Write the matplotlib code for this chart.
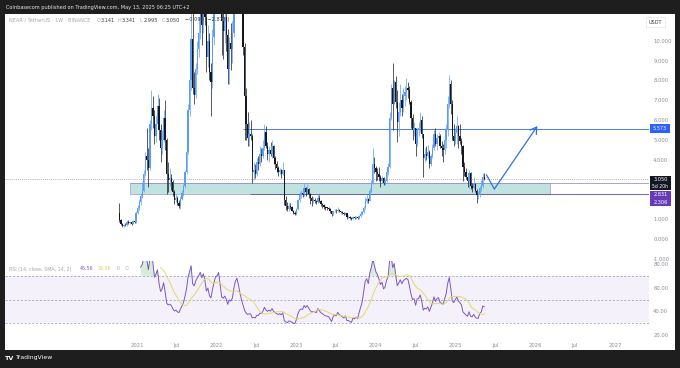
import numpy as np
import pandas as pd
import matplotlib
matplotlib.use("Agg")
import matplotlib.pyplot as plt
import matplotlib.dates as mdates
from matplotlib.patches import Rectangle

W, H = 680, 368

# NEAR / TetherUS weekly candles, first week starts 2020-10-12
first_open = 1.30
closes = [
    0.95, 0.75, 0.66,                      # 2020 Oct
    0.72, 0.70, 0.88, 0.80, 0.86,          # Nov
    0.78, 0.90, 0.85, 1.30,                # Dec
    1.60, 1.90, 2.20, 2.45,                # 2021 Jan
    3.30, 4.20, 4.00, 3.60,                # Feb
    5.80, 6.60, 6.20, 5.20, 5.80,          # Mar
    6.70, 5.50, 4.60, 5.00,                # Apr
    6.10, 5.00, 3.30, 3.00, 3.10,          # May
    2.90, 2.40, 2.00, 2.10,                # Jun
    1.85, 1.70, 2.05, 2.35,                # Jul
    2.70, 3.40, 4.40, 6.50, 8.00,          # Aug
    10.10, 7.60, 7.25, 8.60,               # Sep
    9.60, 10.40, 11.60, 10.80,             # Oct
    12.20, 11.20, 9.20, 10.00, 8.40,       # Nov
    7.90, 10.20, 12.60, 15.00,             # Dec
    15.50, 17.20, 14.50, 11.00, 10.50,     # 2022 Jan
    11.20, 10.30, 8.60, 9.90,              # Feb
    9.60, 10.40, 13.80, 17.00,             # Mar
    18.60, 16.80, 14.20, 11.80,            # Apr
    9.70, 7.20, 5.80, 5.10, 5.30,          # May
    5.20, 3.40, 3.50, 3.30,                # Jun
    3.90, 3.80, 4.30, 4.20,                # Jul
    4.60, 5.40, 4.70, 4.30, 4.50,          # Aug
    4.30, 4.70, 4.10, 3.80,                # Sep
    3.60, 3.40, 3.50, 3.30, 3.50,          # Oct
    2.00, 1.70, 1.55, 1.70,                # Nov
    1.65, 1.45, 1.30, 1.25,                # Dec
    1.55, 2.00, 2.25, 2.35, 2.30,          # 2023 Jan
    2.60, 2.40, 2.55, 2.30,                # Feb
    2.10, 1.95, 2.00, 1.95,                # Mar
    1.90, 2.10, 1.95, 1.80,                # Apr
    1.75, 1.65, 1.60, 1.58, 1.55,          # May
    1.40, 1.25, 1.40, 1.45,                # Jun
    1.40, 1.50, 1.40, 1.35, 1.30,          # Jul
    1.25, 1.30, 1.10, 1.10,                # Aug
    1.05, 1.02, 1.10, 1.07,                # Sep
    1.10, 1.05, 1.15, 1.25, 1.35,          # Oct
    1.60, 1.95, 2.05, 1.95,                # Nov
    2.45, 2.85, 3.80, 3.60,                # Dec
    3.40, 3.30, 3.15, 2.95, 3.10,          # 2024 Jan
    2.85, 2.95, 3.40, 3.65,                # Feb
    6.10, 7.60, 6.80, 7.90,                # Mar
    6.90, 5.90, 6.40, 7.00, 6.60,          # Apr
    7.20, 7.40, 7.60, 7.50,                # May
    6.90, 6.10, 5.50, 5.60,                # Jun
    4.80, 5.50, 5.60, 6.00, 5.30,          # Jul
    4.10, 4.30, 4.20, 4.40,                # Aug
    3.80, 4.20, 4.60, 5.30, 4.80,          # Sep
    5.10, 5.20, 4.70, 4.60,                # Oct
    4.50, 5.00, 5.50, 6.80,                # Nov
    7.80, 6.80, 5.20, 4.95, 5.35,          # Dec
    5.70, 5.20, 4.95, 4.70,                # 2025 Jan
    3.65, 3.40, 3.15, 2.95,                # Feb
    3.35, 2.70, 2.60, 2.80, 2.45,          # Mar
    2.25, 2.25, 2.60, 2.70,                # Apr
    3.14, 3.05,                            # May
]
highs = [
    1.85, 1.00, 0.80,
    0.78, 0.80, 0.95, 0.96, 0.92,
    0.90, 0.95, 0.98, 1.40,
    1.72, 2.05, 2.35, 2.90,
    3.50, 4.40, 5.60, 4.60,
    6.00, 7.50, 7.20, 6.50, 6.20,
    7.30, 7.10, 5.80, 5.50,
    6.50, 7.00, 5.10, 3.90, 3.60,
    3.30, 3.00, 2.50, 2.30,
    2.20, 2.00, 2.20, 2.50,
    2.80, 3.50, 4.60, 6.80, 8.50,
    13.20, 12.40, 8.40, 8.90,
    10.00, 11.20, 12.10, 12.30,
    13.00, 13.20, 11.60, 10.80, 10.40,
    8.90, 10.60, 13.30, 16.00,
    16.90, 20.40, 20.30, 14.80, 11.50,
    11.90, 11.60, 10.60, 10.20,
    10.90, 11.00, 14.00, 17.50,
    20.60, 19.40, 17.50, 14.80,
    12.50, 9.90, 7.60, 6.40, 5.90,
    6.00, 5.30, 3.90, 3.80,
    4.10, 4.20, 4.70, 4.60,
    5.00, 5.80, 5.70, 4.90, 4.70,
    4.90, 5.00, 4.75, 4.20,
    3.95, 3.70, 3.60, 3.55, 3.90,
    3.50, 2.20, 1.90, 1.85,
    1.85, 1.70, 1.50, 1.40,
    1.60, 2.05, 2.40, 2.50, 2.55,
    2.85, 2.65, 2.80, 2.60,
    2.35, 2.20, 2.15, 2.10,
    2.00, 2.30, 2.25, 2.00,
    1.85, 1.80, 1.70, 1.65, 1.65,
    1.60, 1.45, 1.45, 1.55,
    1.55, 1.65, 1.55, 1.45, 1.40,
    1.35, 1.35, 1.32, 1.20,
    1.15, 1.10, 1.15, 1.15,
    1.15, 1.15, 1.20, 1.40, 1.45,
    1.70, 2.15, 2.25, 2.10,
    2.60, 3.00, 4.60, 4.15,
    3.70, 3.60, 3.65, 3.25, 3.20,
    3.15, 3.05, 3.55, 3.85,
    6.40, 7.80, 8.90, 8.00,
    8.20, 7.50, 6.90, 7.80, 7.30,
    7.60, 7.70, 8.10, 7.90,
    7.70, 7.00, 6.30, 5.90,
    5.60, 5.60, 5.90, 6.40, 6.20,
    5.30, 4.60, 4.70, 4.75,
    4.50, 4.30, 4.80, 5.50, 5.60,
    5.30, 5.40, 5.30, 4.95,
    4.80, 5.60, 5.80, 7.20,
    8.25, 8.00, 7.00, 5.80, 5.60,
    6.20, 5.75, 5.80, 5.10,
    4.75, 3.90, 3.60, 3.35,
    3.50, 3.40, 2.85, 3.15, 2.85,
    2.55, 2.45, 2.70, 3.00,
    3.35, 3.341,
]
lows = [
    0.85, 0.70, 0.60,
    0.60, 0.65, 0.68, 0.76, 0.78,
    0.74, 0.76, 0.80, 0.84,
    1.25, 1.50, 1.75, 2.10,
    2.40, 3.20, 3.50, 2.65,
    3.50, 5.50, 5.60, 4.80, 4.90,
    5.70, 5.00, 3.90, 4.30,
    4.90, 4.50, 2.30, 2.40, 2.70,
    2.50, 2.20, 1.80, 1.90,
    1.75, 1.60, 1.55, 2.00,
    2.20, 2.60, 3.30, 4.30, 6.20,
    7.50, 7.30, 6.80, 7.10,
    8.30, 9.20, 10.10, 9.80,
    10.40, 10.80, 8.40, 8.70, 8.00,
    6.20, 7.60, 9.80, 12.40,
    13.50, 14.00, 12.00, 9.30, 9.10,
    9.90, 9.50, 7.80, 7.80,
    8.50, 8.90, 10.20, 13.40,
    16.20, 15.00, 13.60, 11.40,
    9.30, 5.00, 5.00, 4.70, 4.70,
    5.00, 2.85, 3.00, 3.10,
    3.20, 3.50, 3.70, 3.90,
    4.10, 4.50, 4.60, 4.00, 3.90,
    4.20, 4.10, 3.80, 3.55,
    3.40, 3.20, 3.30, 3.10, 3.25,
    1.75, 1.50, 1.40, 1.45,
    1.55, 1.40, 1.25, 1.20,
    1.20, 1.50, 1.90, 2.10, 2.15,
    2.20, 2.20, 2.30, 2.10,
    1.80, 1.70, 1.85, 1.85,
    1.80, 1.85, 1.90, 1.70,
    1.60, 1.55, 1.50, 1.50, 1.50,
    1.30, 1.15, 1.20, 1.35,
    1.30, 1.35, 1.35, 1.30, 1.25,
    1.20, 1.20, 1.00, 1.05,
    1.00, 0.98, 1.00, 1.02,
    1.02, 1.00, 1.02, 1.12, 1.20,
    1.30, 1.55, 1.85, 1.85,
    1.95, 2.40, 2.80, 3.35,
    2.95, 3.00, 2.95, 2.65, 2.85,
    2.75, 2.75, 2.90, 3.25,
    3.60, 6.00, 5.50, 6.80,
    6.60, 4.90, 5.20, 6.20, 6.20,
    6.40, 6.70, 7.00, 7.10,
    6.80, 5.60, 5.00, 5.20,
    4.20, 4.70, 5.20, 5.40, 5.10,
    3.15, 3.90, 4.00, 4.10,
    3.60, 3.70, 4.10, 4.50, 4.70,
    4.50, 4.80, 4.60, 4.20,
    3.90, 4.30, 4.60, 5.20,
    6.60, 6.30, 5.00, 4.70, 4.80,
    4.80, 4.60, 4.80, 4.30,
    2.95, 3.20, 3.05, 2.65,
    2.60, 2.55, 2.40, 2.55, 2.40,
    1.85, 2.05, 2.15, 2.45,
    2.60, 2.995,
]

# drawings on the chart
zone_low, zone_high = 2.306, 2.831
zone_start, zone_end = "2020-11-28", "2026-03-08"
zone_low_line_start = "2022-06-03"
target_level = 5.573
target_start = "2022-05-01"
last_price = 3.050
path_dates = ["2025-05-22", "2025-06-27", "2026-01-10"]
path_prices = [3.24, 2.53, 5.70]

tick_dates = ["2021-01-01", "2021-07-01", "2022-01-01", "2022-07-01", "2023-01-01",
              "2023-07-01", "2024-01-01", "2024-07-01", "2025-01-01", "2025-07-01",
              "2026-01-01", "2026-07-01", "2027-01-01"]
tick_labels = ["2021", "Jul", "2022", "Jul", "2023", "Jul", "2024", "Jul",
               "2025", "Jul", "2026", "Jul", "2027"]
price_ticks = [-1, 0, 1, 4, 5, 6, 7, 8, 9, 10]
rsi_ticks = [20, 40, 60, 80]

UP = "#5b9cf6"
DOWN = "#131722"
GREY = "#8b8e97"
ARROW = "#2f6fe0"

plt.rcParams['font.family'] = ['DejaVu Sans']

# ---- helpers in pixel coords ----
fig = plt.figure(figsize=(W / 100, H / 100), dpi=100, facecolor="#1e1e1e")


def rect(x0, y0, x1, y1, **kw):
    fig.patches.append(Rectangle((x0 / W, 1 - y1 / H), (x1 - x0) / W, (y1 - y0) / H,
                                 transform=fig.transFigure, **kw))


def txt(x, y, s, **kw):
    kw.setdefault("va", "center")
    fig.text(x / W, 1 - y / H, s, **kw)


rect(5, 14, 675, 350, facecolor="white", edgecolor="none", zorder=-1)

# x scale: 2021-01-01 at px 137, 2027-01-01 at px 615
x21 = mdates.datestr2num("2021-01-01")
ppd = (615 - 137) / (mdates.datestr2num("2027-01-01") - x21)
xlim = (x21 + (5 - 137) / ppd, x21 + (649 - 137) / ppd)

opens = [first_open] + closes[:-1]
dates = pd.date_range("2020-10-12", periods=len(closes), freq="W-MON")
xd = mdates.date2num(dates)
o = np.array(opens)
c = np.array(closes)
hi = np.array(highs)
lo = np.array(lows)

# ---- price pane ----
y0px, ppu = 239.3, 19.86
ax = fig.add_axes([5 / W, 1 - 261 / H, 644 / W, (261 - 14) / H])
ax.set_facecolor("none")
for s in ax.spines.values():
    s.set_visible(False)
ax.set_xlim(xlim)
ax.set_ylim((y0px - 261) / ppu, (y0px - 14) / ppu)
ax.set_xticks([])
ax.yaxis.tick_right()
ax.set_yticks(price_ticks)
ax.set_yticklabels([f"{v:.3f}" for v in price_ticks])
ax.tick_params(axis="y", length=0, pad=3, labelsize=3.8, labelcolor=GREY)

zs, ze = mdates.datestr2num(zone_start), mdates.datestr2num(zone_end)
ax.add_patch(Rectangle((zs, zone_low), ze - zs, zone_high - zone_low,
                       facecolor="#bfe4df", edgecolor="#a9a6d6", lw=0.6, zorder=1))
ax.hlines(zone_high, zs, xlim[1], color="#9d90d2", lw=0.6, zorder=2)
ax.hlines(zone_low, mdates.datestr2num(zone_low_line_start), xlim[1], color="#5a52a6", lw=0.6, zorder=2)
ax.hlines(target_level, mdates.datestr2num(target_start), xlim[1], color="#4a7fe8", lw=0.7, zorder=2)
ax.axhline(last_price, color="#9598a1", lw=0.6, ls=(0, (1, 1.5)), zorder=2)

up = c >= o
col = np.where(up, UP, DOWN)
ax.vlines(xd, lo, hi, colors=col, lw=0.5, zorder=3)
ax.bar(xd, np.maximum(np.abs(c - o), 0.03), bottom=np.minimum(o, c), width=6,
       color=col, lw=0, zorder=3)

pdx = mdates.datestr2num(path_dates)
ax.plot(pdx[:2], path_prices[:2], color=ARROW, lw=0.9, zorder=4, solid_capstyle="round")
ax.annotate("", xy=(pdx[2], path_prices[2]), xytext=(pdx[1], path_prices[1]),
            arrowprops=dict(arrowstyle="->,head_length=0.45,head_width=0.28", color=ARROW,
                            lw=0.9, shrinkA=0, shrinkB=0), zorder=4)

# ---- RSI pane ----
delta = np.diff(c, prepend=np.nan)
gain = np.where(delta > 0, delta, 0.0)
loss = np.where(delta < 0, -delta, 0.0)
n = 14


def rma(x, n):
    out = np.full(len(x), np.nan)
    out[n] = np.mean(x[1:n + 1])
    for i in range(n + 1, len(x)):
        out[i] = (out[i - 1] * (n - 1) + x[i]) / n
    return out


ag, al = rma(gain, n), rma(loss, n)
rsi = 100 - 100 / (1 + ag / al)
rsi_ma = pd.Series(rsi).rolling(14).mean().to_numpy()

r0, rppu = 264, (335 - 264) / 60.0
ax2 = fig.add_axes([5 / W, 1 - 337 / H, 644 / W, (337 - 261) / H])
ax2.set_facecolor("none")
for s in ax2.spines.values():
    s.set_visible(False)
ax2.set_xlim(xlim)
ax2.set_ylim(80 - (337 - r0) / rppu, 80 + (r0 - 261) / rppu)
ax2.axhspan(30, 70, color="#7e57c2", alpha=0.08, lw=0)
for lvl in (70, 50, 30):
    ax2.axhline(lvl, color="#9598a1", lw=0.5, ls=(0, (3, 2.5)))
ax2.fill_between(xd, 70, rsi, where=rsi > 70, interpolate=True, color="#4caf50", alpha=0.22, lw=0)
ax2.fill_between(xd, 30, rsi, where=rsi < 30, interpolate=True, color="#f44336", alpha=0.22, lw=0)
ax2.plot(xd, rsi, color="#7e57c2", lw=0.7)
ax2.plot(xd, rsi_ma, color="#e0da6c", lw=0.7)
ax2.yaxis.tick_right()
ax2.set_yticks(rsi_ticks)
ax2.set_yticklabels([f"{v:.2f}" for v in rsi_ticks])
ax2.tick_params(axis="y", length=0, pad=3, labelsize=3.8, labelcolor=GREY)
ax2.set_xticks(mdates.datestr2num(tick_dates))
ax2.set_xticklabels(tick_labels)
ax2.tick_params(axis="x", length=0, pad=4, labelsize=3.8, labelcolor=GREY)

# ---- texts and price labels ----
txt(6, 7, "Coinbasecom published on TradingView.com, May 13, 2025 06:25 UTC+2",
    fontsize=3.6, color="#e6e6e6")
txt(9, 20, "NEAR / TetherUS · 1W · BINANCE", fontsize=3.6, color="#a3a6af")
for x, lab, val in [(97, "O", "3.141"), (118, "H", "3.341"), (140, "L", "2.995"), (162, "C", "3.050")]:
    txt(x, 20, lab, fontsize=3.6, color="#a3a6af")
    txt(x + 4, 20, val, fontsize=3.6, color="#3b3e47")
txt(185, 20, "−0.090 (−2.87%)", fontsize=3.6, color="#3b3e47")

txt(9, 269, "RSI (14, close, SMA, 14, 2)", fontsize=3.4, color="#a3a6af")
txt(80, 269, "45.56", fontsize=3.4, color="#7e57c2")
txt(98, 269, "39.26", fontsize=3.4, color="#d6cf5e")
txt(117, 269, "0", fontsize=3.4, color="#a3a6af")
txt(125, 269, "∅", fontsize=3.4, color="#a3a6af")

txt(655.5, 22, "USDT", fontsize=3.6, color="#3b3e47", ha="center",
    bbox=dict(boxstyle="square,pad=0.5", facecolor="white", edgecolor="#e0e3eb", lw=0.5))

rect(650, 124, 670, 133, facecolor="#2962ff", edgecolor="none", zorder=5)
txt(660, 128.5, "5.573", fontsize=3.6, color="white", ha="center", zorder=6)
rect(650, 176, 671, 190, facecolor="#131722", edgecolor="none", zorder=5)
txt(660.5, 179.5, "3.050", fontsize=3.6, color="white", ha="center", zorder=6)
txt(660.5, 186, "5d 20h", fontsize=3.3, color="white", ha="center", zorder=6)
rect(650, 191, 671, 206, facecolor="#673ab7", edgecolor="none", zorder=5)
txt(660.5, 194.5, "2.831", fontsize=3.6, color="white", ha="center", zorder=6)
txt(660.5, 202, "2.306", fontsize=3.6, color="white", ha="center", zorder=6)

txt(5, 358, "TV", fontsize=4.6, color="white", fontweight="bold")
txt(16, 358, "TradingView", fontsize=4.4, color="white")

plt.savefig("out.png", dpi=100, facecolor=fig.get_facecolor())
